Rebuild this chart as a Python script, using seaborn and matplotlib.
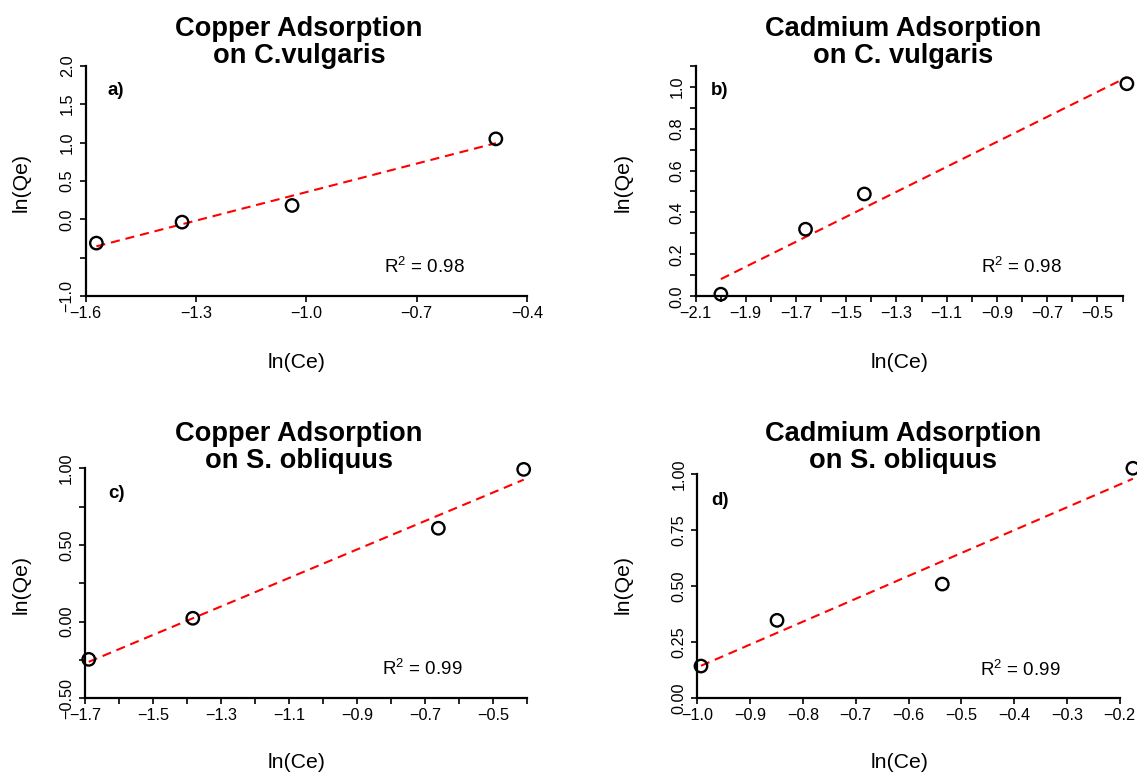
import numpy as np
import seaborn as sns
import matplotlib.pyplot as plt

# data (ln(Ce), ln(Qe))
cu_cv_x = [-1.571, -1.338, -1.039, -0.485]
cu_cv_y = [-0.308, -0.035, 0.182, 1.048]
cd_cv_x = [-1.999, -1.662, -1.428, -0.383]
cd_cv_y = [0.010, 0.320, 0.488, 1.014]
cu_so_x = [-1.689, -1.383, -0.661, -0.410]
cu_so_y = [-0.246, 0.022, 0.609, 0.993]
cd_so_x = [-0.993, -0.849, -0.536, -0.175]
cd_so_y = [0.144, 0.348, 0.510, 1.027]

titles = ["Copper Adsorption\non C.vulgaris", "Cadmium Adsorption\non C. vulgaris",
          "Copper Adsorption\non S. obliquus", "Cadmium Adsorption\non S. obliquus"]
panel_tags = ["a)", "b)", "c)", "d)"]
r2_text = ["0.98", "0.98", "0.99", "0.99"]

# ticks and labels
a_xticks = [-1.6, -1.3, -1.0, -0.7, -0.4]
a_xlabels = ["\u22121.6", "\u22121.3", "\u22121.0", "\u22120.7", "\u22120.4"]
a_yticks = [-1.0, -0.5, 0.0, 0.5, 1.0, 1.5, 2.0]
a_ylabels = ["\u22121.0", "", "0.0", "0.5", "1.0", "1.5", "2.0"]

b_xticks = list(np.round(np.arange(-2.1, -0.35, 0.1), 1))
b_xlabels = ["\u22122.1", "", "\u22121.9", "", "\u22121.7", "", "\u22121.5", "", "\u22121.3", "",
             "\u22121.1", "", "\u22120.9", "", "\u22120.7", "", "\u22120.5", ""]
b_yticks = list(np.round(np.arange(0, 1.15, 0.1), 1))
b_ylabels = ["0.0", "", "0.2", "", "0.4", "", "0.6", "", "0.8", "", "1.0", ""]

c_xticks = list(np.round(np.arange(-1.7, -0.35, 0.1), 1))
c_xlabels = ["\u22121.7", "", "\u22121.5", "", "\u22121.3", "", "\u22121.1", "",
             "\u22120.9", "", "\u22120.7", "", "\u22120.5", ""]
c_yticks = [-0.5, -0.25, 0.0, 0.25, 0.5, 0.75, 1.0]
c_ylabels = ["\u22120.50", "", "0.00", "", "0.50", "", "1.00"]

d_xticks = list(np.round(np.arange(-1.0, -0.15, 0.1), 1))
d_xlabels = ["\u22121.0", "\u22120.9", "\u22120.8", "\u22120.7", "\u22120.6",
             "\u22120.5", "\u22120.4", "\u22120.3", "\u22120.2"]
d_yticks = [0.0, 0.25, 0.5, 0.75, 1.0]
d_ylabels = ["0.00", "0.25", "0.50", "0.75", "1.00"]

sns.set_style('ticks', {'axes.edgecolor': 'black', 'xtick.color': 'black',
                        'ytick.color': 'black', 'text.color': 'black'})
plt.rcParams['font.family'] = ['Liberation Sans', 'DejaVu Sans']

W, H = 1137, 773
fig = plt.figure(figsize=(W / 100, H / 100), dpi=100)

def fx(p):
    return p / W

def fy(p):
    return 1 - p / H

# axes boxes in pixels: left, right, top, bottom
boxes = [(85.7, 527.1, 65.7, 296.3), (695.5, 1122.6, 65.7, 296.3),
         (85.0, 527.1, 468.3, 698.3), (697.3, 1119.7, 474.3, 698.3)]
series = [(cu_cv_x, cu_cv_y), (cd_cv_x, cd_cv_y), (cu_so_x, cu_so_y), (cd_so_x, cd_so_y)]
ticks = [(a_xticks, a_xlabels, a_yticks, a_ylabels), (b_xticks, b_xlabels, b_yticks, b_ylabels),
         (c_xticks, c_xlabels, c_yticks, c_ylabels), (d_xticks, d_xlabels, d_yticks, d_ylabels)]

# text anchors (pixels)
title_cx = [299, 903, 299, 903]
title_base = [(36, 63), (36, 63), (441, 468), (441, 468)]
tag_pos = [(108, 95), (711, 95), (108, 498), (711, 505)]
r2_pos = [(384, 272.7), (981, 272.7), (382, 675), (980.5, 676)]
ylab_pos = [(21, 182), (623, 182), (21, 584), (623, 584)]
xlab_pos = [(297, 362), (900, 362), (297, 763), (900, 763)]

for i in range(4):
    l, r, t, b = boxes[i]
    ax = fig.add_axes([fx(l), fy(b), fx(r - l), (b - t) / H])
    x, y = series[i]
    sns.regplot(x=np.array(x), y=np.array(y), ax=ax, ci=None, color='black',
                scatter_kws={'facecolors': 'none', 's': 80, 'linewidths': 1.7,
                             'alpha': 1, 'clip_on': False, 'zorder': 3},
                line_kws={'color': 'red', 'lw': 1.5, 'ls': '--', 'dashes': (4.4, 2.8),
                          'clip_on': False})
    xt, xl, yt, yl = ticks[i]
    ax.set_xticks(xt, labels=xl)
    ax.set_yticks(yt, labels=yl)
    ax.set_xlim(xt[0], xt[-1])
    ax.set_ylim(yt[0], yt[-1])
    ax.set_xlabel('')
    ax.set_ylabel('')
    sns.despine(ax=ax)
    for s in ['left', 'bottom']:
        ax.spines[s].set_linewidth(1.6)
    ax.tick_params(length=4.4, width=1.2, labelsize=11.7)
    ax.tick_params(axis='x', pad=2.5)
    ax.tick_params(axis='y', pad=3.5)
    plt.setp(ax.get_yticklabels(), rotation=90, va='center')

    line1, line2 = titles[i].split('\n')
    fig.text(fx(title_cx[i]), fy(title_base[i][0]), line1, ha='center', va='baseline',
             fontsize=19.6, fontweight='bold')
    fig.text(fx(title_cx[i]), fy(title_base[i][1]), line2, ha='center', va='baseline',
             fontsize=19.6, fontweight='bold')
    fig.text(fx(tag_pos[i][0]), fy(tag_pos[i][1]), panel_tags[i], ha='left', va='baseline',
             fontsize=13.5, fontweight='bold')
    fig.text(fx(r2_pos[i][0]), fy(r2_pos[i][1]), r'R$^\mathregular{2}$ = ' + r2_text[i],
             ha='left', va='baseline', fontsize=13.5)
    fig.text(fx(ylab_pos[i][0]), fy(ylab_pos[i][1]), 'ln(Qe)', rotation=90,
             ha='center', va='center', fontsize=15.3)
    fig.text(fx(xlab_pos[i][0]), fy(xlab_pos[i][1]), 'ln(Ce)', ha='center', va='center',
             fontsize=15.3)

plt.savefig('out.png', dpi=100)
